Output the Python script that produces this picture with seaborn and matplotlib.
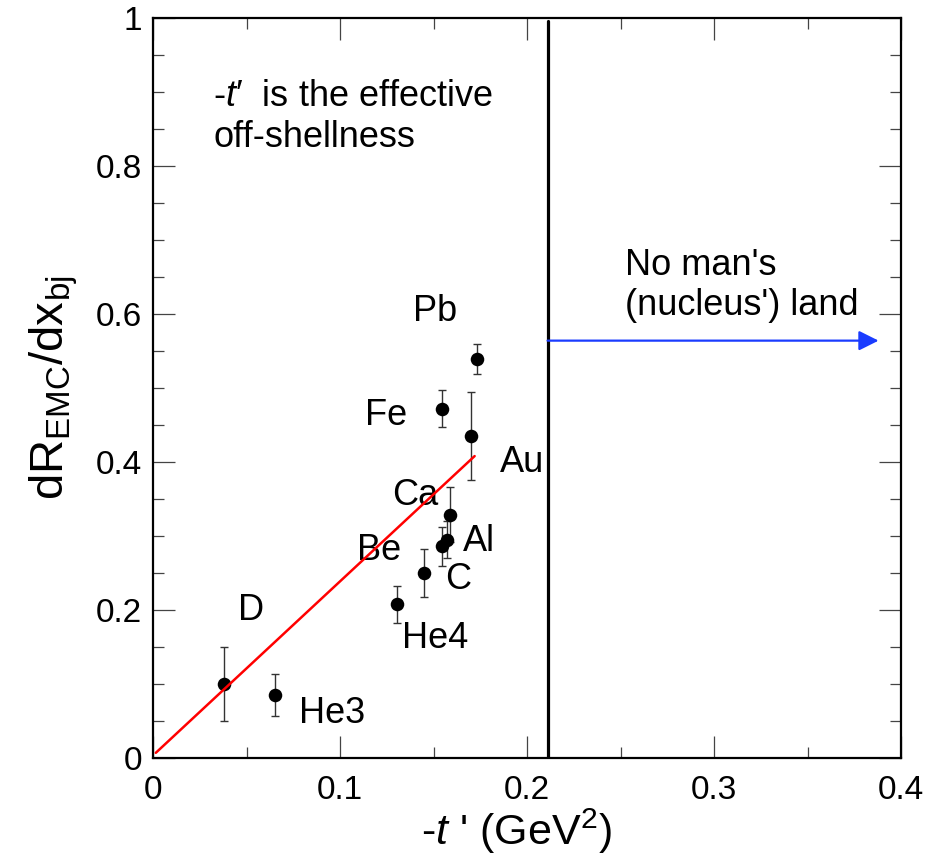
import matplotlib
matplotlib.use("Agg")
import matplotlib.pyplot as plt
from matplotlib.ticker import MultipleLocator, FixedLocator, FixedFormatter
import seaborn as sns
import pandas as pd

# ---- data ----
nuclei = ["D", "He3", "He4", "C", "Be", "Al", "Ca", "Fe", "Au", "Pb"]
t_prime = [0.0381, 0.0651, 0.1303, 0.1449, 0.1544, 0.1572, 0.1588, 0.1547, 0.1700, 0.1730]
slope = [0.100, 0.085, 0.208, 0.250, 0.286, 0.295, 0.329, 0.472, 0.435, 0.539]
slope_err = [0.050, 0.028, 0.025, 0.032, 0.026, 0.025, 0.037, 0.025, 0.059, 0.020]

label_x = [0.0455, 0.0781, 0.1332, 0.1561, 0.1091, 0.1658, 0.1278, 0.1134, 0.1856, 0.1390]
label_y = [0.1865, 0.0473, 0.1486, 0.2284, 0.2676, 0.2797, 0.3419, 0.4500, 0.3865, 0.5905]

fit_x = [0.0015, 0.1720]
fit_y = [0.0070, 0.4080]

boundary_x = 0.211
arrow_y = 0.564
arrow_x_end = 0.388

xtick_vals = [0.0, 0.1, 0.2, 0.3, 0.4]
xtick_labels = ["0", "0.1", "0.2", "0.3", "0.4"]
ytick_vals = [0.0, 0.2, 0.4, 0.6, 0.8, 1.0]
ytick_labels = ["0", "0.2", "0.4", "0.6", "0.8", "1"]

df = pd.DataFrame({"nucleus": nuclei, "t": t_prime, "slope": slope, "err": slope_err})
fit_df = pd.DataFrame({"t": fit_x, "slope": fit_y})

# ---- style ----
sns.set_theme(style="ticks")
plt.rcParams["font.family"] = ["Liberation Sans", "DejaVu Sans"]
plt.rcParams["mathtext.fontset"] = "custom"
plt.rcParams["mathtext.rm"] = "Liberation Sans"
plt.rcParams["mathtext.it"] = "Liberation Sans:italic"
plt.rcParams["mathtext.bf"] = "Liberation Sans:bold"
plt.rcParams["text.color"] = "black"
plt.rcParams["axes.labelcolor"] = "black"
plt.rcParams["xtick.labelcolor"] = "black"
plt.rcParams["ytick.labelcolor"] = "black"

fig = plt.figure(figsize=(9.38, 8.65), dpi=100)
ax = fig.add_axes([153 / 938, (865 - 758) / 865, (901 - 153) / 938, (758 - 18) / 865])
ax.set_facecolor("white")

# error bars
ax.errorbar(df["t"], df["slope"], yerr=df["err"], fmt="none", ecolor="#333333",
            elinewidth=1.0, capsize=2.8, capthick=1.0, zorder=2)
# points
sns.scatterplot(data=df, x="t", y="slope", ax=ax, color="black", s=95,
                edgecolor="black", linewidth=0, zorder=3, legend=False)
# fit line
sns.lineplot(data=fit_df, x="t", y="slope", ax=ax, color="red", linewidth=1.8,
             zorder=4, estimator=None, sort=False)

# boundary line
ax.axvline(boundary_x, ymin=0, ymax=0.996, color="black", linewidth=2.3, zorder=1)

# arrow
ax.annotate("", xy=(arrow_x_end, arrow_y), xytext=(boundary_x, arrow_y),
            arrowprops=dict(arrowstyle="-|>,head_length=0.6,head_width=0.3",
                            mutation_scale=20, color="#1a3cff", lw=1.6,
                            shrinkA=0, shrinkB=0), zorder=5)

# labels of nuclei
for name, lx, ly in zip(nuclei, label_x, label_y):
    ax.text(lx, ly, name, fontsize=26, ha="left", va="baseline", color="black")

ax.text(0.0321, 0.826, "-$t$′  is the effective\noff-shellness", fontsize=26,
        ha="left", va="baseline", linespacing=1.22)
ax.text(0.2524, 0.598, "No man's\n(nucleus') land", fontsize=26,
        ha="left", va="baseline", linespacing=1.22)

# axes
ax.set_xlim(0, 0.4)
ax.set_ylim(0, 1)
ax.xaxis.set_major_locator(FixedLocator(xtick_vals))
ax.xaxis.set_major_formatter(FixedFormatter(xtick_labels))
ax.yaxis.set_major_locator(FixedLocator(ytick_vals))
ax.yaxis.set_major_formatter(FixedFormatter(ytick_labels))
ax.xaxis.set_minor_locator(MultipleLocator(0.05))
ax.yaxis.set_minor_locator(MultipleLocator(0.05))

ax.tick_params(which="both", direction="in", top=True, right=True, color="#444444",
               labelcolor="black")
ax.tick_params(which="major", length=16, width=0.9)
ax.tick_params(which="minor", length=8, width=0.9)
ax.tick_params(axis="x", which="major", labelsize=24, pad=12)
ax.tick_params(axis="y", which="major", labelsize=24, pad=8)

for sp in ax.spines.values():
    sp.set_linewidth(1.6)
    sp.set_color("black")
    sp.set_visible(True)

ax.set_xlabel("-$t$ ' (GeV$^2$)", fontsize=31, color="black")
ax.set_ylabel("dR$_{\\mathrm{EMC}}$/dx$_{\\mathrm{bj}}$", fontsize=34, color="black")
ax.xaxis.set_label_coords((516 - 153) / 748, -0.066)
ax.yaxis.set_label_coords((80 - 153) / 748, 0.5)

fig.savefig("out.png", dpi=100, facecolor="white")
